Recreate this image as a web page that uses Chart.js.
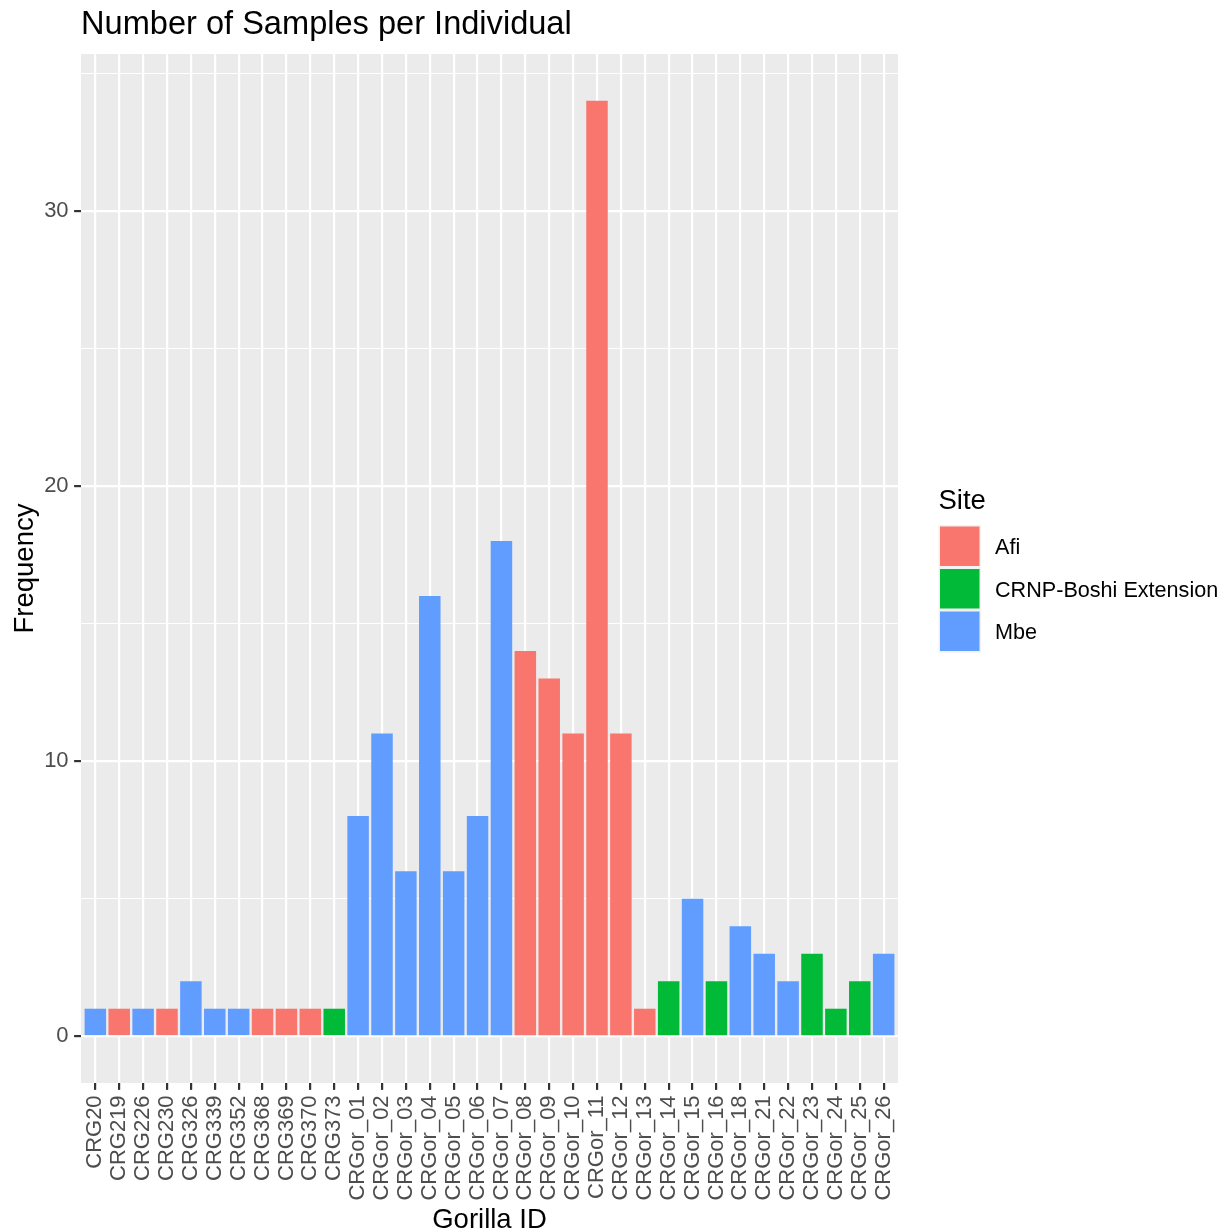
<!DOCTYPE html>
<html>
<head>
<meta charset="utf-8">
<title>Number of Samples per Individual</title>
<script src="https://cdn.jsdelivr.net/npm/chart.js@4/dist/chart.umd.min.js"></script>
<style>
  html, body { margin: 0; padding: 0; background: #ffffff; }
  #wrap { width: 1228px; height: 1232px; position: relative; }
  canvas { display: block; }
</style>
</head>
<body>
<div id="wrap"><canvas id="chart" width="1228" height="1232"></canvas></div>
<script>
// Individuals, in axis order
const gorillaIds = [
  'CRG20', 'CRG219', 'CRG226', 'CRG230', 'CRG326', 'CRG339', 'CRG352', 'CRG368',
  'CRG369', 'CRG370', 'CRG373', 'CRGor_01', 'CRGor_02', 'CRGor_03', 'CRGor_04',
  'CRGor_05', 'CRGor_06', 'CRGor_07', 'CRGor_08', 'CRGor_09', 'CRGor_10', 'CRGor_11',
  'CRGor_12', 'CRGor_13', 'CRGor_14', 'CRGor_15', 'CRGor_16', 'CRGor_18', 'CRGor_21',
  'CRGor_22', 'CRGor_23', 'CRGor_24', 'CRGor_25', 'CRGor_26'
];

// Samples collected for each individual
const sampleCounts = [
  1, 1, 1, 1, 2, 1, 1, 1,
  1, 1, 1, 8, 11, 6, 16,
  6, 8, 18, 14, 13, 11, 34,
  11, 1, 2, 5, 2, 4, 3,
  2, 3, 1, 2, 3
];

// Site where each individual was sampled
const sampleSites = [
  'Mbe', 'Afi', 'Mbe', 'Afi', 'Mbe', 'Mbe', 'Mbe', 'Afi',
  'Afi', 'Afi', 'CRNP-Boshi Extension', 'Mbe', 'Mbe', 'Mbe', 'Mbe',
  'Mbe', 'Mbe', 'Mbe', 'Afi', 'Afi', 'Afi', 'Afi',
  'Afi', 'Afi', 'CRNP-Boshi Extension', 'Mbe', 'CRNP-Boshi Extension', 'Mbe', 'Mbe',
  'Mbe', 'CRNP-Boshi Extension', 'CRNP-Boshi Extension', 'CRNP-Boshi Extension', 'Mbe'
];

const siteNames = ['Afi', 'CRNP-Boshi Extension', 'Mbe'];
const siteColors = ['#F8766D', '#00BA38', '#619CFF'];

const yTickValues = [0, 10, 20, 30];

// One dataset per site; bars sit at the index of their individual
const datasets = siteNames.map((site, s) => ({
  label: site,
  backgroundColor: siteColors[s],
  borderWidth: 0,
  data: gorillaIds
    .map((id, i) => ({ x: i, y: sampleCounts[i], site: sampleSites[i] }))
    .filter(p => p.site === site)
}));

const FONT = "'Liberation Sans', Arial, Helvetica, sans-serif";
const PANEL = { left: 81, top: 54, right: 898, bottom: 1083 };
const W = 1228, H = 1232;
const isWhole = v => Math.abs(v - Math.round(v)) < 1e-9;

// grey panel behind the grid
const panelBackground = {
  id: 'panelBackground',
  beforeDraw(chart) {
    const { ctx, chartArea: a } = chart;
    ctx.save();
    ctx.fillStyle = '#EBEBEB';
    ctx.fillRect(a.left, a.top, a.right - a.left, a.bottom - a.top);
    ctx.restore();
  }
};

// legend drawn at the right of the panel
const siteLegend = {
  id: 'siteLegend',
  afterDraw(chart) {
    const { ctx } = chart;
    const x0 = 938.5, y0 = 525, key = 42.5, keyW = 42.5;
    ctx.save();
    ctx.fillStyle = '#000000';
    ctx.font = '27.5px ' + FONT;
    ctx.textBaseline = 'alphabetic';
    ctx.textAlign = 'left';
    ctx.fillText('Site', x0, 508.5);
    chart.data.datasets.forEach((ds, i) => {
      const y = y0 + i * key;
      ctx.fillStyle = '#F2F2F2';
      ctx.fillRect(x0, y, keyW, key);
      ctx.fillStyle = ds.backgroundColor;
      ctx.fillRect(x0 + 1.5, y + 1.5, keyW - 3, key - 3);
      ctx.fillStyle = '#000000';
      ctx.font = '21.6px ' + FONT;
      ctx.textBaseline = 'alphabetic';
      ctx.fillText(ds.label, 995, y + key / 2 + 8);
    });
    ctx.restore();
  }
};

new Chart(document.getElementById('chart'), {
  type: 'bar',
  data: { datasets },
  plugins: [panelBackground, siteLegend],
  options: {
    responsive: false,
    animation: false,
    devicePixelRatio: 1,
    grouped: false,
    barPercentage: 0.9,
    categoryPercentage: 1.0,
    layout: { padding: { left: 0, right: W - PANEL.right, top: 0, bottom: 0 } },
    plugins: {
      legend: { display: false },
      tooltip: { enabled: false },
      title: {
        display: true,
        text: 'Number of Samples per Individual',
        align: 'start',
        fullSize: false,
        color: '#000000',
        font: { family: FONT, size: 32.6, weight: 'normal', lineHeight: 1.2 },
        padding: { top: 5.5, bottom: PANEL.top - 5.5 - 32.6 * 1.2 }
      }
    },
    scales: {
      x: {
        type: 'linear',
        min: -0.6,
        max: gorillaIds.length - 1 + 0.6,
        offset: false,
        afterFit(scale) { scale.height = H - PANEL.bottom; },
        border: { display: false },
        grid: {
          offset: false,
          color: ctx => (ctx.tick && isWhole(ctx.tick.value) ? '#FFFFFF' : 'rgba(0,0,0,0)'),
          lineWidth: 2.2,
          drawTicks: true,
          tickLength: 6.9,
          tickColor: ctx => (ctx.tick && isWhole(ctx.tick.value) ? '#333333' : 'rgba(0,0,0,0)'),
          tickWidth: 2.2
        },
        ticks: {
          stepSize: 1,
          includeBounds: false,
          autoSkip: false,
          minRotation: 90,
          maxRotation: 90,
          padding: 5.5,
          color: '#4D4D4D',
          font: { family: FONT, size: 22 },
          callback: v => (isWhole(v) ? (gorillaIds[Math.round(v)] ?? '') : '')
        },
        title: {
          display: true,
          text: 'Gorilla ID',
          color: '#000000',
          font: { family: FONT, size: 27.5, lineHeight: 0.8 },
          padding: { top: 0, bottom: 0.5 }
        }
      },
      y: {
        type: 'linear',
        min: -1.7,
        max: 35.7,
        afterFit(scale) { scale.width = PANEL.left; },
        border: { display: false },
        grid: {
          offset: false,
          color: '#FFFFFF',
          lineWidth: ctx => (ctx.tick && ctx.tick.value % 10 === 0 ? 2.2 : 1.1),
          drawTicks: true,
          tickLength: 6.9,
          tickColor: ctx => (ctx.tick && ctx.tick.value % 10 === 0 ? '#333333' : 'rgba(0,0,0,0)'),
          tickWidth: 2.2
        },
        ticks: {
          stepSize: 5,
          includeBounds: false,
          padding: 5.5,
          color: '#4D4D4D',
          font: { family: FONT, size: 22 },
          callback: v => (yTickValues.includes(v) ? String(v) : '')
        },
        title: {
          display: true,
          text: 'Frequency',
          color: '#000000',
          font: { family: FONT, size: 27.5, lineHeight: 1.2 },
          padding: { top: 8.5, bottom: 0 }
        }
      }
    }
  }
});
</script>
</body>
</html>
